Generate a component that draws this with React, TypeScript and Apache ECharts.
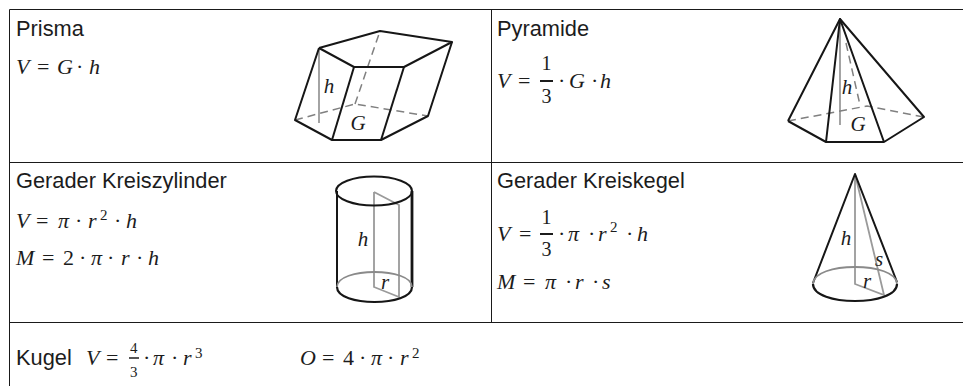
import React, { useEffect, useRef } from "react";
import * as echarts from "echarts";

type P = [number, number];
type Tok = [string, number, number?, number?]; // text, x, baseline override, size override

const titles: [string, number, number][] = [
  ["Prisma", 16, 35.5],
  ["Pyramide", 497, 35.5],
  ["Gerader Kreiszylinder", 16, 187.5],
  ["Gerader Kreiskegel", 497, 187.5],
  ["Kugel", 16, 364],
];

// formula rows: baseline + tokens
const formulas: [number, Tok[]][] = [
  [73, [["V", 16], ["=", 37], ["G", 57], ["·", 76], ["h", 89]]],
  [87, [["V", 497], ["=", 518], ["1", 541.5, 69, 20], ["3", 541.5, 102, 20], ["·", 558], ["G", 569], ["·", 591], ["h", 600]]],
  [227, [["V", 16], ["=", 36], ["π", 58], ["·", 75], ["r", 88], ["2", 100, 219, 15], ["·", 114], ["h", 126]]],
  [264, [["M", 16], ["=", 42], ["2", 63], ["·", 79], ["π", 91], ["·", 107], ["r", 121], ["·", 136], ["h", 148]]],
  [240, [["V", 497], ["=", 519], ["1", 541.5, 223, 20], ["3", 541.5, 255, 20], ["·", 558], ["π", 568], ["·", 588], ["r", 598], ["2", 610, 231, 15], ["·", 626], ["h", 637]]],
  [288, [["M", 497], ["=", 523], ["π", 545], ["·", 565], ["r", 575], ["·", 592], ["s", 602]]],
  [364, [["V", 86], ["=", 106], ["4", 130, 352, 15], ["3", 130, 376, 15], ["·", 143], ["π", 153], ["·", 171], ["r", 183], ["3", 195, 357, 15]]],
  [364, [["O", 300], ["=", 322], ["4", 343], ["·", 359], ["π", 371], ["·", 387], ["r", 400], ["2", 412, 357, 15]]],
];

const fractionBars: [number, number, number, number][] = [
  [540, 553, 81, 2],
  [540, 553, 234, 2],
  [129, 139, 358, 1.5],
];

const figureLabels: [string, number, number][] = [
  ["h", 329, 92],
  ["G", 358, 129],
  ["h", 847, 93],
  ["G", 858, 130],
  ["h", 363, 245],
  ["r", 385, 288],
  ["h", 846, 244],
  ["s", 879, 265],
  ["r", 867, 287],
];

const tableLines: [P, P][] = [
  [[9.5, 9.5], [963, 9.5]],
  [[9.5, 162.5], [963, 162.5]],
  [[9.5, 322.5], [963, 322.5]],
  [[9.5, 9.5], [9.5, 386]],
  [[491.5, 9.5], [491.5, 322.5]],
];

const blackLines: P[][] = [
  [[319, 48], [380, 31], [452, 42], [404, 67], [354, 67], [319, 48]],
  [[319, 48], [295, 120], [332, 140], [381, 140], [428, 116], [452, 42]],
  [[354, 67], [332, 140]],
  [[404, 67], [381, 140]],
  [[788, 121], [840, 19], [924, 117], [884, 142], [826, 142], [788, 121]],
  [[826, 142], [840, 19], [884, 142]],
  [[337, 191], [337, 287]],
  [[813, 283], [855, 174], [897, 282]],
];

const thickLines: P[][] = [[[412, 191], [412, 287]]];

const grayLines: P[][] = [
  [[319, 48], [319, 123]],
  [[840, 19], [840, 125]],
  [[374, 192], [374, 287], [399, 297], [399, 205], [374, 192]],
  [[855, 174], [855, 284], [884, 295], [855, 174]],
];

const dashedLines: P[][] = [
  [[295, 120], [355, 104], [428, 116]],
  [[355, 104], [380, 31]],
  [[788, 121], [867, 106], [924, 117]],
  [[846, 43], [860, 105]],
];

// cx, cy, rx, ry
const fullEllipses: [number, number, number, number][] = [[374, 191, 38, 14.5]];
const halfEllipses: [number, number, number, number, string][] = [
  [374.5, 287, 37.5, 15, "front"],
  [374.5, 287, 37.5, 15, "back"],
  [855, 284, 42, 17, "front"],
  [855, 284, 42, 17, "back"],
];

const MATH = '"Liberation Serif", serif';
const SANS = '"Liberation Sans", Arial, sans-serif';
const INK = "#1c1c1c";

function text(t: string, x: number, base: number, size: number, family: string, italic: boolean) {
  return {
    type: "text",
    x,
    y: base - size * 0.3,
    silent: true,
    style: {
      text: t,
      fontSize: size,
      fontFamily: family,
      fontStyle: italic ? "italic" : "normal",
      fill: INK,
      textAlign: "left",
      textVerticalAlign: "middle",
    },
  };
}

function buildElements() {
  const els: any[] = [{ type: "rect", shape: { x: 0, y: 0, width: 963, height: 386 }, style: { fill: "#fff" }, silent: true }];
  tableLines.forEach(([a, b]) =>
    els.push({ type: "line", shape: { x1: a[0], y1: a[1], x2: b[0], y2: b[1] }, style: { stroke: "#1a1a1a", lineWidth: 1 }, silent: true })
  );
  titles.forEach(([t, x, y]) => els.push(text(t, x, y, 21.8, SANS, false)));
  formulas.forEach(([base, toks]) =>
    toks.forEach(([t, x, b, s]) => els.push(text(t, x, b ?? base, s ?? 22, MATH, /[A-Za-zπ]/.test(t))))
  );
  fractionBars.forEach(([x1, x2, y, w]) =>
    els.push({ type: "line", shape: { x1, y1: y, x2, y2: y }, style: { stroke: INK, lineWidth: w }, silent: true })
  );
  grayLines.forEach((points) =>
    els.push({ type: "polyline", shape: { points }, style: { stroke: "#9a9a9a", lineWidth: 1.8, fill: "none" }, silent: true })
  );
  dashedLines.forEach((points) =>
    els.push({ type: "polyline", shape: { points }, style: { stroke: "#808080", lineWidth: 1.5, lineDash: [8, 5], fill: "none" }, silent: true })
  );
  blackLines.forEach((points) =>
    els.push({ type: "polyline", shape: { points }, style: { stroke: "#161616", lineWidth: 2, fill: "none", lineJoin: "round" }, silent: true })
  );
  thickLines.forEach((points) =>
    els.push({ type: "polyline", shape: { points }, style: { stroke: "#161616", lineWidth: 2.8, fill: "none" }, silent: true })
  );
  fullEllipses.forEach(([cx, cy, rx, ry]) =>
    els.push({ type: "ellipse", shape: { cx, cy, rx, ry }, style: { stroke: "#161616", lineWidth: 2, fill: "none" }, silent: true })
  );
  halfEllipses.forEach(([cx, cy, rx, ry, side]) => {
    const front = side === "front";
    const dy = ((front ? 1 : -1) * ry * 4) / 3;
    els.push({
      type: "bezierCurve",
      shape: { x1: cx - rx, y1: cy, x2: cx + rx, y2: cy, cpx1: cx - rx, cpy1: cy + dy, cpx2: cx + rx, cpy2: cy + dy },
      style: { stroke: front ? "#161616" : "#8a8a8a", lineWidth: front ? 2.2 : 1.8, fill: "none" },
      silent: true,
    });
  });
  figureLabels.forEach(([t, x, y]) => {
    const el = text(t, x, y, 21, MATH, true);
    el.style.textAlign = "center";
    els.push(el);
  });
  return els;
}

export default function App() {
  const ref = useRef<HTMLDivElement>(null);
  useEffect(() => {
    document.body.style.margin = "0";
    const chart = echarts.init(ref.current!, undefined, { renderer: "svg" });
    chart.setOption({ animation: false, backgroundColor: "#fff", graphic: { elements: buildElements() } });
    return () => chart.dispose();
  }, []);
  return <div ref={ref} style={{ width: 963, height: 386 }} />;
}
